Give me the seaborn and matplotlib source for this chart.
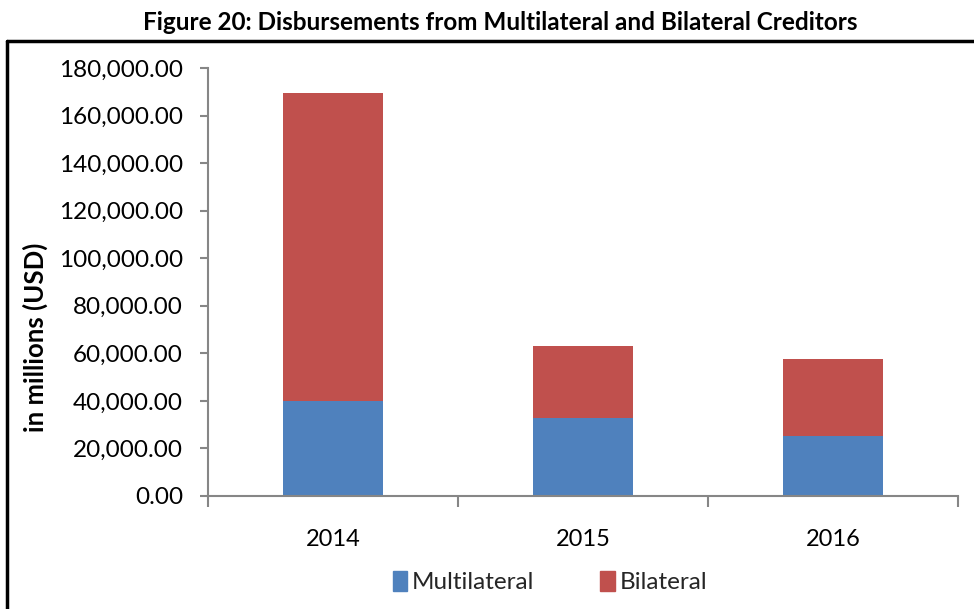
import matplotlib
matplotlib.use("Agg")
import matplotlib.pyplot as plt
import seaborn as sns
import pandas as pd
from matplotlib.lines import Line2D
from matplotlib.ticker import FuncFormatter, FixedLocator

years = ["2014", "2015", "2016"]
multilateral = [40000, 32800, 25200]
bilateral = [129300, 30300, 32400]
series_names = ["Multilateral", "Bilateral"]
colors = ["#4F81BD", "#C0504D"]
title = "Figure 20: Disbursements from Multilateral and Bilateral Creditors"
ylabel = "in millions (USD)"

sns.set_theme(style="white")
plt.rcParams["font.family"] = ["Lato", "DejaVu Sans"]

totals = [m + b for m, b in zip(multilateral, bilateral)]
df = pd.DataFrame({"year": years, "Multilateral": multilateral, "total": totals})

fig = plt.figure(figsize=(9.74, 6.09), dpi=100)
ax = fig.add_axes([208/974, 1-496/609, 750/974, 428/609])

sns.barplot(data=df, x="year", y="total", color=colors[1], width=0.4,
            saturation=1, ax=ax, linewidth=0)
sns.barplot(data=df, x="year", y="Multilateral", color=colors[0], width=0.4,
            saturation=1, ax=ax, linewidth=0)

ax.set_xlim(-0.5, 2.5)
ax.set_ylim(0, 180000)
ax.set_yticks(range(0, 180001, 20000))
ax.yaxis.set_major_formatter(FuncFormatter(lambda v, p: f"{v:,.2f}"))
ax.xaxis.set_minor_locator(FixedLocator([-0.5, 0.5, 1.5, 2.5]))

axis_col = "#868686"
for s in ["top", "right"]:
    ax.spines[s].set_visible(False)
for s in ["left", "bottom"]:
    ax.spines[s].set_color(axis_col)
    ax.spines[s].set_linewidth(1.5)

ax.tick_params(axis="y", which="major", direction="out", length=6, width=1.5,
               color=axis_col, labelsize=17.5, pad=12, left=True)
ax.tick_params(axis="x", which="major", length=0, labelsize=17, pad=24)
ax.tick_params(axis="x", which="minor", direction="out", length=8, width=1.5,
               color=axis_col, bottom=True)
for lab in ax.get_yticklabels() + ax.get_xticklabels():
    lab.set_color("black")

ax.set_xlabel("")
ax.set_ylabel(ylabel, fontsize=18.5, fontweight="bold", color="black")
ax.yaxis.set_label_coords(-0.213, 0.37)

fig.text(500/974, 1-23/609, title, ha="center", va="center",
         fontsize=17.5, fontweight="bold", color="black")

handles = [plt.Rectangle((0, 0), 1, 1, color=c) for c in colors]
fig.legend(handles, series_names, loc="center", bbox_to_anchor=(550/974, 1-582/609),
           ncol=2, frameon=False, fontsize=17.5, handlelength=0.6, handleheight=0.9,
           handletextpad=0.2, columnspacing=2.7)

fig.add_artist(Line2D([7/974, 7/974], [0, 1-41/609], transform=fig.transFigure,
                      color="black", linewidth=2.5))
fig.add_artist(Line2D([7/974, 1], [1-41/609, 1-41/609], transform=fig.transFigure,
                      color="black", linewidth=2.5))

fig.savefig("out.png", dpi=100, facecolor="white")
